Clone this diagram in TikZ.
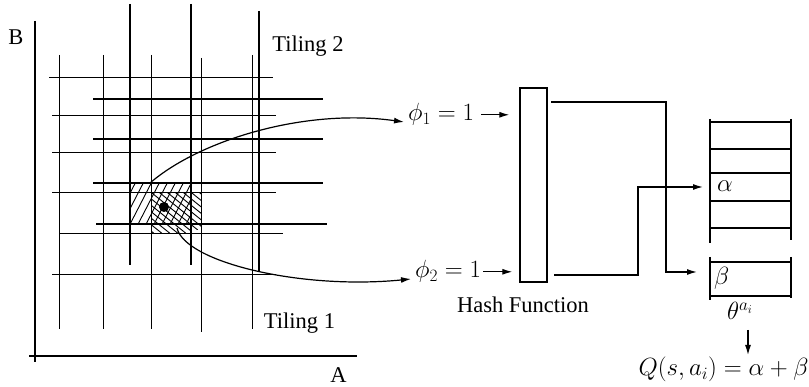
\documentclass[tikz,border=0pt]{standalone}
\usepackage[no-math]{fontspec}
\setmainfont{Liberation Serif}
\usetikzlibrary{arrows.meta}
\begin{document}
\begin{tikzpicture}[x=1pt,y=-1pt,
  tileone/.style={line width=1pt},
  tiletwo/.style={line width=2.5pt},
  axisline/.style={line width=2.5pt},
  hatchline/.style={line width=0.9pt},
  wire/.style={line width=1.3pt},
  link/.style={line width=1.2pt,-{Latex[length=10pt,width=6pt]}},
  lbl/.style={font=\fontsize{22.5}{26}\selectfont,inner sep=0,anchor=base},
  mth/.style={font=\fontsize{23.5}{28}\selectfont,inner sep=0,anchor=base},
]
\useasboundingbox (0,0) rectangle (809,387);

% axes
\draw[axisline] (35,21) -- (35,362);
\draw[axisline] (29,356) -- (357,356);
\node[lbl] (labB) at (16,45) {B};
\node[lbl] (labA) at (338.5,382) {A};

% hatching of the two active tiles
\begin{scope}
  \clip (130,183) rectangle (191,224);
  \foreach \x in {94,102,...,206} \draw[hatchline] (\x,232) -- (\x+32,170);
\end{scope}
\begin{scope}
  \clip (151,193) -- (201,193) -- (201,229) -- (181,234) -- (151,234) -- cycle;
  \foreach \x in {78,86,...,214} \draw[hatchline] (\x,185) -- (\x+62,235);
\end{scope}

% tiling 1 (thin)
\foreach \x/\a/\b in {59/55/329,103/55/329,151/55/329,201/58/332,252/55/329}
  \draw[tileone] (\x,\a) -- (\x,\b);
\foreach \y/\a/\b in {78/49/273,116/52/276,153/52/276,193/52/276,234/59/283,275/52/276}
  \draw[tileone] (\a,\y) -- (\b,\y);

% tiling 2 (thick)
\foreach \x/\a/\b in {130/4/265,191/4/265,259/11/272}
  \draw[tiletwo] (\x,\a) -- (\x,\b);
\foreach \y/\a/\b in {99/93/323,139/93/323,183/93/323,224/96/327}
  \draw[tiletwo] (\a,\y) -- (\b,\y);

% state point
\fill (164,207) circle[radius=5];

\node[lbl] (t2) at (308,52) {Tiling 2};
\node[lbl] (t1) at (299.5,329) {Tiling 1};

% features
\node[mth,anchor=base west] (phi1) at (408,121) {$\phi_1=1$};
\node[mth,anchor=base west] (phi2) at (415,278) {$\phi_2=1$};
\coordinate (upstart) at (150,183);
\coordinate (lowstart) at (177,228);
\coordinate (in1) at (404,122);
\coordinate (in2) at (411,279);
\draw[link] (upstart) .. controls (200,140) and (305,108) .. (in1);
\draw[link] (lowstart) .. controls (185,262) and (300,290) .. (in2);

% hash function
\node[draw,line width=1.3pt,minimum width=27pt,minimum height=194pt,inner sep=0] (hash) at (533.5,185) {};
\node[lbl] (hashlbl) at (523,313) {Hash Function};
\draw[link,shorten >=10pt] ([xshift=7pt]phi1.east) -- (phi1.east -| hash.west);
\draw[link,shorten >=7pt] ([xshift=2pt]phi2.east) -- (phi2.east -| hash.west);

% weight vector
\draw[wire] (710,119) -- (710,243);
\draw[wire] (791,119) -- (791,240);
\foreach \y in {122,149,173,201,228} \draw[wire] (710,\y) -- (791,\y);
\draw[wire] (710,257) -- (710,300);
\draw[wire] (791,257) -- (791,298);
\draw[wire] (710,262) -- (791,262);
\draw[wire] (710,296) -- (791,296);
\node[mth,anchor=base west] (alpha) at (717,192) {$\alpha$};
\node[mth,anchor=base west] (beta) at (714,285) {$\beta$};

% hashed indices
\coordinate (o1) at (551,102);
\coordinate (o2) at (554,275);
\coordinate (betain) at (697,272);
\coordinate (alphain) at (703,187);
\draw[wire,-{Latex[length=10pt,width=6pt]}] (o1) -- (666,102) -- (666,272) -- (betain);
\draw[wire,-{Latex[length=10pt,width=6pt]}] (o2) -- (638,275) -- (638,187) -- (alphain);

% output
\node[mth] (theta) at (740,320) {$\theta^{a_i}$};
\node[mth] (qval) at (723.5,376) {$Q(s,a_i)=\alpha+\beta$};
\coordinate (d1) at (748,330);
\coordinate (d2) at (748,355);
\draw[link] (d1) -- (d2);
\end{tikzpicture}
\end{document}
